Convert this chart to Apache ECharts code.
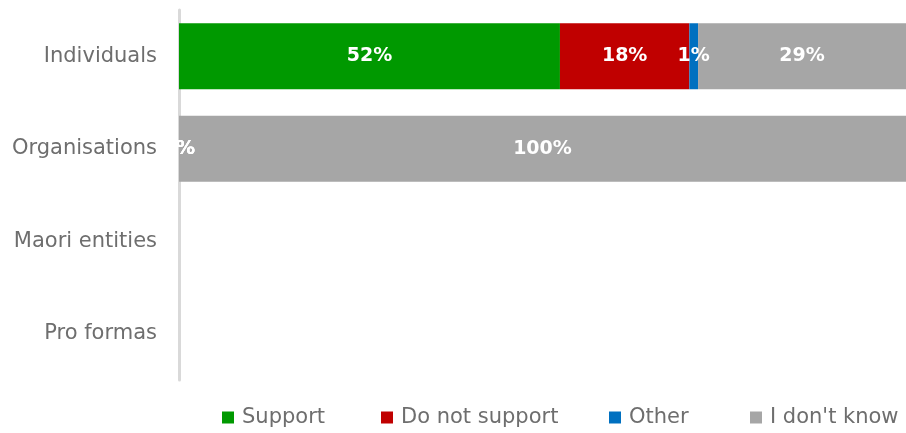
<!DOCTYPE html>
<html>
<head>
<meta charset="utf-8">
<script src="https://cdn.jsdelivr.net/npm/echarts@6/dist/echarts.min.js"></script>
<style>
  html, body { margin: 0; padding: 0; background: #fff; }
  #chart { width: 906px; height: 433px; }
</style>
</head>
<body>
<div id="chart"></div>
<script>
// categories top to bottom
const categories = ['Individuals', 'Organisations', 'Maori entities', 'Pro formas'];
// percentage per category (labels are rounded)
const support = [52.4, 0, null, null];
const doNotSupport = [17.8, 0, null, null];
const other = [1.2, 0, null, null];
const dontKnow = [28.6, 100, null, null];

const names = ['Support', 'Do not support', 'Other', "I don't know"];
const colors = ['#009900', '#c00000', '#0070c0', '#a6a6a6'];
const values = [support, doNotSupport, other, dontKnow];
// legend item left edges
const legendLeft = [217, 376, 604, 745];

let myChart = echarts.init(document.getElementById('chart'));

myChart.setOption({
  animation: false,
  textStyle: { fontFamily: 'DejaVu Sans' },
  grid: { left: 179, right: 0, top: 10, bottom: 53 },
  legend: names.map((n, i) => ({
    bottom: 0,
    left: legendLeft[i],
    itemWidth: 12,
    itemHeight: 12,
    icon: 'rect',
    textStyle: { fontSize: 21, color: '#6e6e6e', padding: [0, 0, 0, 3] },
    data: [n]
  })),
  xAxis: { type: 'value', min: 0, max: 100, show: false },
  yAxis: {
    type: 'category',
    inverse: true,
    data: categories,
    axisLine: { lineStyle: { color: '#d9d9d9', width: 3 } },
    axisTick: { show: false },
    axisLabel: { fontSize: 21, color: '#6e6e6e', margin: 22 }
  },
  series: names.map((n, i) => ({
    name: n,
    type: 'bar',
    stack: 'total',
    barWidth: 66,
    itemStyle: { color: colors[i] },
    label: {
      show: true,
      position: 'inside',
      color: '#fff',
      fontWeight: 'bold',
      fontSize: 19,
      formatter: p => p.value == null ? '' : Math.round(p.value) + '%'
    },
    data: values[i]
  }))
});
</script>
</body>
</html>
